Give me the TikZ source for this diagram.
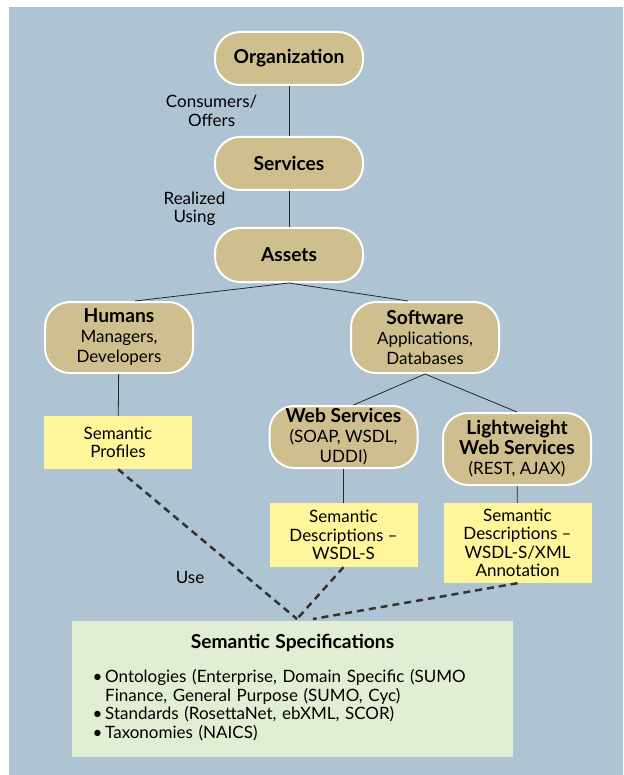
\documentclass[tikz,border=0pt]{standalone}
\usepackage{fontspec}
\setmainfont{Lato}[BoldFeatures={Scale=1.13}]
\usetikzlibrary{positioning}

\definecolor{bgblue}{HTML}{AFC4D2}
\definecolor{pilltan}{HTML}{CFBF8E}
\definecolor{noteyellow}{HTML}{FFF59B}
\definecolor{specgreen}{HTML}{E2EED3}

\tikzset{
  pill/.style={draw=white, line width=2pt, fill=pilltan, rounded corners=25pt,
    minimum width=148pt, align=center, inner sep=2pt, font=\fontsize{17}{20}\selectfont},
  note/.style={fill=noteyellow, minimum width=148pt, align=center, inner sep=2pt},
  link/.style={draw=black!85, line width=0.8pt},
  uses/.style={draw=black!80, line width=2.5pt, dash pattern=on 7pt off 5pt},
}

\begin{document}
\begin{tikzpicture}[x=1pt, y=-1pt, font=\fontsize{17}{18.5}\selectfont]
  \useasboundingbox (0,0) rectangle (623,775);
  \fill[bgblue] (9,7) rectangle (623,775);

  \node[pill, minimum height=53pt] (org)    at (289, 58.5) {\textbf{Organization}};
  \node[pill, minimum height=53pt] (svc)    at (289, 163.5) {\textbf{Services}};
  \node[pill, minimum height=54pt] (assets) at (289, 255)  {\textbf{Assets}};
  \node[pill, minimum height=71pt] (humans)   at (119, 337.5) {\textbf{Humans}\\Managers,\\Developers};
  \node[pill, minimum height=71pt] (software) at (425, 337.5) {\textbf{Software}\\Applications,\\Databases};
  \node[pill, minimum height=62pt] (websvc)   at (343.5, 437) {\textbf{Web Services}\\(SOAP, WSDL,\\UDDI)};
  \node[pill, minimum height=72pt] (lightws)  at (517, 449)   {\textbf{Lightweight}\\\textbf{Web Services}\\(REST, AJAX)};

  \node[note, minimum height=53pt] (profiles) at (118, 442.5)   {Semantic\\Profiles};
  \node[note, minimum height=64pt] (wsdldesc) at (343.5, 535)   {Semantic\\Descriptions --\\WSDL-S};
  \node[note, minimum height=80pt] (xmldesc)  at (517.5, 543)   {Semantic\\Descriptions --\\WSDL-S/XML\\Annotation};

  \node[fill=specgreen, minimum width=441pt, minimum height=136pt, text width=400pt, align=left, inner sep=0pt] (spec) at (292.5, 689) {%
    {\centering\textbf{Semantic Specifications}\par}\vspace{17pt}
    \begin{tabular}{@{}l@{\,}l@{}}
      \textbullet & Ontologies (Enterprise, Domain Specific (SUMO\\
                  & Finance, General Purpose (SUMO, Cyc)\\
      \textbullet & Standards (RosettaNet, ebXML, SCOR)\\
      \textbullet & Taxonomies (NAICS)
    \end{tabular}};
  \coordinate (use) at (297, 619);

  % hierarchy
  \path[link]
    (org) edge node[left=28pt, align=center] {Consumers/\\Offers} (svc)
    (svc) edge node[left=60pt, align=center] {Realized\\Using} (assets)
    (assets.south) edge ([xshift=16pt]humans.north)
    (assets.south) edge ([xshift=-17pt]software.north)
    (software.south) edge ([xshift=10pt]websvc.north)
    (software.south) edge (lightws.north)
    (humans) edge (profiles)
    (websvc) edge (wsdldesc)
    (lightws) edge (xmldesc);
  % semantics
  \path[uses]
    (profiles.south) edge node[pos=0.72, left=38pt] {Use} (use)
    (wsdldesc.south) edge (use)
    (xmldesc.south) edge ([xshift=16pt]use);
\end{tikzpicture}
\end{document}
